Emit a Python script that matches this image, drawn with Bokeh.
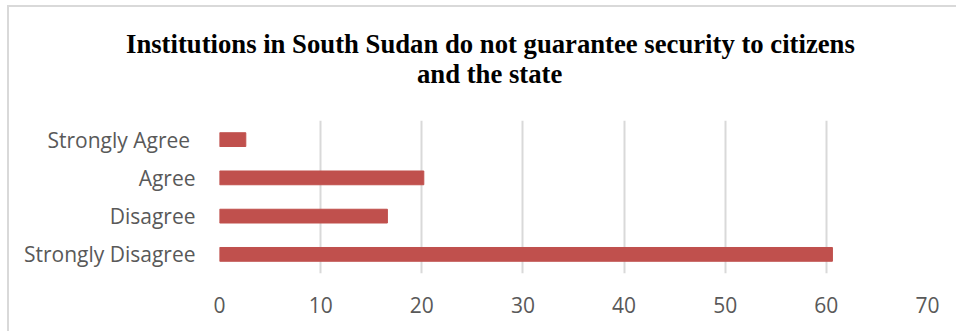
from bokeh.plotting import figure
from bokeh.models import Title, FactorRange, Range1d, FixedTicker
from bokeh.embed import file_html
from bokeh.resources import INLINE

categories = ["Strongly Disagree", "Disagree", "Agree", "Strongly Agree "]
values = [60.6, 16.6, 20.2, 2.6]
x_ticks = [0, 10, 20, 30, 40, 50, 60, 70]
title_lines = ["Institutions in South Sudan do not guarantee security to citizens", "and the state"]

p = figure(
    width=949, height=326,
    y_range=FactorRange(*categories, range_padding=0),
    x_range=Range1d(0, 70),
    output_backend="svg", toolbar_location=None,
    min_border_left=210, min_border_right=31, min_border_top=113, min_border_bottom=60,
    margin=(5, 0, 0, 7),
    styles={"border-top": "2px solid #d9d9d9", "border-left": "2px solid #d9d9d9"},
)
p.outline_line_color = None

p.hbar(y=categories, right=values, left=0, height=0.36, color="#c0504d")

t2 = Title(text=title_lines[1], align="left", offset=197.5, text_font="Liberation Serif",
           text_font_size="26.7px", text_font_style="bold", text_color="#000000", standoff=64)
t1 = Title(text=title_lines[0], align="left", offset=-93.5, text_font="Liberation Serif",
           text_font_size="26.7px", text_font_style="bold", text_color="#000000", standoff=-68)
p.add_layout(t2, "above")
p.add_layout(t1, "above")

p.xaxis.ticker = FixedTicker(ticks=x_ticks)
for ax in (p.xaxis[0], p.yaxis[0]):
    ax.axis_line_color = None
    ax.major_tick_line_color = None
    ax.minor_tick_line_color = None
    ax.major_label_text_font = "Open Sans"
    ax.major_label_text_font_size = "21px"
    ax.major_label_text_color = "#595959"
p.xaxis.major_label_standoff = 17
p.yaxis.major_label_standoff = 18

p.xgrid.grid_line_color = "#d9d9d9"
p.xgrid.grid_line_width = 2
p.ygrid.grid_line_color = None

open("out.html", "w").write(file_html(p, INLINE))
